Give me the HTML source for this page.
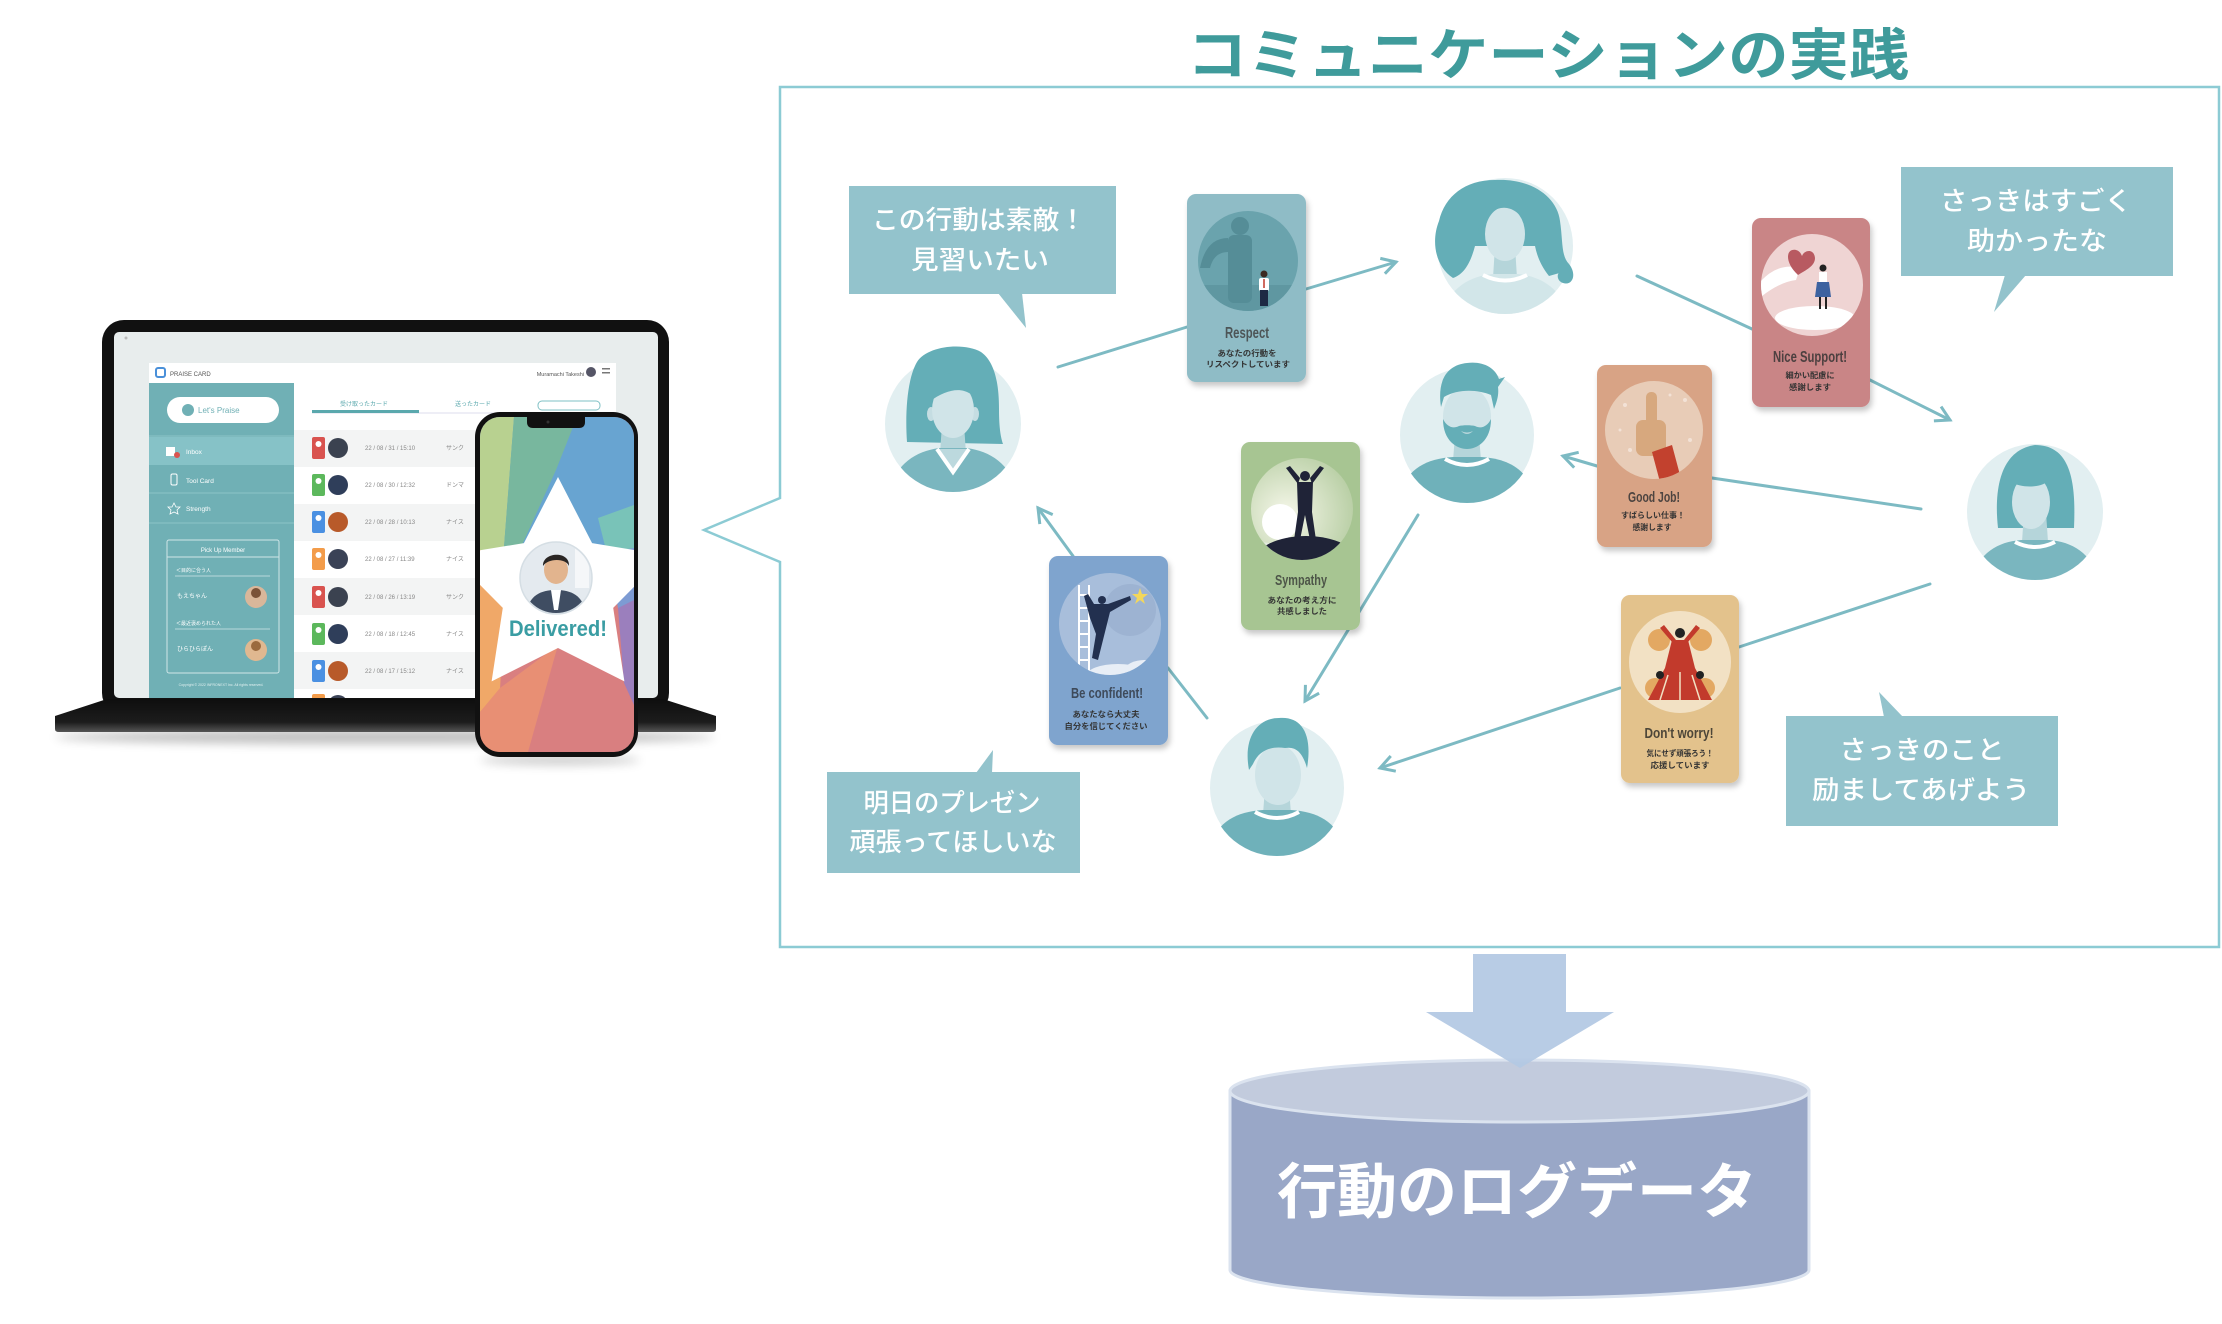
<!DOCTYPE html>
<html><head><meta charset="utf-8">
<style>
html,body{margin:0;padding:0;background:#fff;width:2222px;height:1324px;overflow:hidden;}
svg{display:block;}
text{font-family:'Liberation Sans','Noto Sans CJK JP',sans-serif;}
</style></head>
<body>
<svg width="2222" height="1324" viewBox="0 0 2222 1324" xmlns="http://www.w3.org/2000/svg">
<defs>
  <filter id="sh" x="-20%" y="-20%" width="150%" height="150%">
    <feDropShadow dx="2" dy="4" stdDeviation="3" flood-color="#000" flood-opacity="0.22"/>
  </filter>
  <filter id="blur" x="-10%" y="-200%" width="120%" height="500%"><feGaussianBlur stdDeviation="5"/></filter>
  <clipPath id="pc"><circle cx="0" cy="0" r="68"/></clipPath>
  <marker id="ah" viewBox="0 0 20 20" refX="17" refY="10" markerWidth="20" markerHeight="20" markerUnits="userSpaceOnUse" orient="auto">
    <path d="M3,2 L17,10 L3,18" fill="none" stroke="#7dbac3" stroke-width="3"/>
  </marker>
  <clipPath id="phoneclip"><rect x="480" y="417" width="154" height="335" rx="20"/></clipPath>
  <clipPath id="scr"><rect x="114" y="332" width="544" height="366"/></clipPath>
  <clipPath id="c1"><circle cx="1248" cy="261" r="50"/></clipPath>
  <clipPath id="c2"><circle cx="1812" cy="285" r="51"/></clipPath>
  <clipPath id="c3"><circle cx="1654" cy="430" r="49"/></clipPath>
  <clipPath id="c4"><circle cx="1302" cy="509" r="51"/></clipPath>
  <clipPath id="c5"><circle cx="1110" cy="624" r="51"/></clipPath>
  <clipPath id="c6"><circle cx="1680" cy="662" r="51"/></clipPath>
  <radialGradient id="gsym" cx="0.35" cy="0.55" r="0.7">
    <stop offset="0" stop-color="#f6f7ea"/><stop offset="1" stop-color="#b6cda2"/>
  </radialGradient>
  <linearGradient id="baseg" x1="0" y1="0" x2="0" y2="1">
    <stop offset="0" stop-color="#0e0e0e"/><stop offset="0.7" stop-color="#1c1c1c"/><stop offset="1" stop-color="#555"/>
  </linearGradient>
</defs>

<!-- ================= Title ================= -->
<text x="1187" y="75" font-size="56" font-weight="700" fill="#3f9b9b" textLength="722" lengthAdjust="spacingAndGlyphs">コミュニケーションの実践</text>

<!-- ================= Frame with notch ================= -->
<path d="M780,87 L2219,87 L2219,947 L780,947 L780,562 L704,530 L780,498 Z" fill="#fff" stroke="#8ccbd4" stroke-width="2.5"/>

<!-- ================= Connector lines ================= -->
<g stroke="#7dbac3" stroke-width="3" fill="none" stroke-linecap="round">
  <line x1="1058" y1="367" x2="1187" y2="327"/>
  <line x1="1306" y1="289" x2="1396" y2="262" marker-end="url(#ah)"/>
  <line x1="1637" y1="276" x2="1752" y2="329"/>
  <line x1="1870" y1="380" x2="1950" y2="420" marker-end="url(#ah)"/>
  <line x1="1921" y1="509" x2="1712" y2="478"/>
  <line x1="1597" y1="466" x2="1563" y2="456" marker-end="url(#ah)"/>
  <line x1="1418" y1="515" x2="1305" y2="701" marker-end="url(#ah)"/>
  <line x1="1930" y1="584" x2="1739" y2="647"/>
  <line x1="1620" y1="688" x2="1380" y2="768" marker-end="url(#ah)"/>
  <line x1="1207" y1="718" x2="1168" y2="668"/>
  <line x1="1073" y1="556" x2="1038" y2="508" marker-end="url(#ah)"/>
</g>

<!-- ================= Speech bubbles ================= -->
<g fill="#93c3cc">
  <rect x="849" y="186" width="267" height="108"/>
  <polygon points="998,293 1022,293 1026,328"/>
  <rect x="1901" y="167" width="272" height="109"/>
  <polygon points="2005,275 2026,275 1994,312"/>
  <rect x="827" y="772" width="253" height="101"/>
  <polygon points="976,773 992,773 993,750"/>
  <rect x="1786" y="716" width="272" height="110"/>
  <polygon points="1879,692 1884,717 1903,717"/>
</g>
<g fill="#fff" font-size="26" font-weight="500" text-anchor="middle">
  <text x="979" y="229" textLength="214" lengthAdjust="spacingAndGlyphs">この行動は素敵！</text>
  <text x="980" y="269" textLength="138" lengthAdjust="spacingAndGlyphs">見習いたい</text>
  <text x="2036" y="210" textLength="192" lengthAdjust="spacingAndGlyphs">さっきはすごく</text>
  <text x="2037" y="250" textLength="140" lengthAdjust="spacingAndGlyphs">助かったな</text>
  <text x="952" y="812" textLength="177" lengthAdjust="spacingAndGlyphs">明日のプレゼン</text>
  <text x="953" y="851" textLength="207" lengthAdjust="spacingAndGlyphs">頑張ってほしいな</text>
  <text x="1922" y="759" textLength="165" lengthAdjust="spacingAndGlyphs">さっきのこと</text>
  <text x="1921" y="799" textLength="218" lengthAdjust="spacingAndGlyphs">励ましてあげよう</text>
</g>

<!-- ================= Cards ================= -->
<!-- Respect -->
<rect x="1187" y="194" width="119" height="188" rx="9" fill="#8fbcc6" filter="url(#sh)"/>
<circle cx="1248" cy="261" r="50" fill="#6aa3ad"/>
<g clip-path="url(#c1)">
  <rect x="1190" y="285" width="120" height="40" fill="#5f97a1"/>
  <path d="M1200,268 Q1206,238 1228,238 L1228,252 Q1214,252 1210,268Z" fill="#558d97"/>
  <circle cx="1240" cy="226" r="9" fill="#558d97"/>
  <rect x="1228" y="235" width="24" height="68" rx="6" fill="#558d97"/>
  <circle cx="1264" cy="274" r="3.5" fill="#3b2a22"/>
  <rect x="1259" y="278" width="10" height="13" rx="2" fill="#fff"/>
  <line x1="1264" y1="279" x2="1264" y2="288" stroke="#c0392b" stroke-width="1.5"/>
  <rect x="1260" y="290" width="8" height="16" fill="#1e2a44"/>
</g>
<text x="1247" y="338" font-size="16" font-weight="700" fill="#4d5557" text-anchor="middle" textLength="44" lengthAdjust="spacingAndGlyphs">Respect</text>
<text x="1247" y="356" font-size="8" font-weight="700" fill="#333" text-anchor="middle" textLength="59" lengthAdjust="spacingAndGlyphs">あなたの行動を</text>
<text x="1248" y="367" font-size="8" font-weight="700" fill="#333" text-anchor="middle" textLength="84" lengthAdjust="spacingAndGlyphs">リスペクトしています</text>

<!-- Nice Support -->
<rect x="1752" y="218" width="118" height="189" rx="9" fill="#c98586" filter="url(#sh)"/>
<circle cx="1812" cy="285" r="51" fill="#efd4d3"/>
<g clip-path="url(#c2)">
  <path d="M1760,282 Q1778,262 1800,268 L1796,280 Q1780,282 1762,296Z" fill="#fff"/>
  <ellipse cx="1815" cy="318" rx="40" ry="12" fill="#fff"/>
  <path d="M1798,275 C1784,262 1786,248 1796,250 C1800,251 1801,254 1802,256 C1804,250 1814,248 1815,258 C1815,266 1806,270 1798,275Z" fill="#b85a61"/>
  <circle cx="1823" cy="268" r="3.5" fill="#222"/>
  <rect x="1819" y="272" width="8" height="10" fill="#fff"/>
  <path d="M1817,282 L1829,282 L1831,297 L1815,297Z" fill="#3d62a0"/>
  <rect x="1819" y="297" width="2" height="12" fill="#222"/>
  <rect x="1825" y="297" width="2" height="12" fill="#222"/>
</g>
<text x="1810" y="362" font-size="16" font-weight="700" fill="#4d4040" text-anchor="middle" textLength="74" lengthAdjust="spacingAndGlyphs">Nice Support!</text>
<text x="1810" y="378" font-size="8" font-weight="700" fill="#333" text-anchor="middle" textLength="49" lengthAdjust="spacingAndGlyphs">細かい配慮に</text>
<text x="1810" y="390" font-size="8" font-weight="700" fill="#333" text-anchor="middle" textLength="42" lengthAdjust="spacingAndGlyphs">感謝します</text>

<!-- Good Job -->
<rect x="1597" y="365" width="115" height="182" rx="9" fill="#d8a385" filter="url(#sh)"/>
<circle cx="1654" cy="430" r="49" fill="#e8ccb7"/>
<g clip-path="url(#c3)">
  <g fill="#f3e2d6"><circle cx="1625" cy="405" r="2"/><circle cx="1685" cy="400" r="2"/><circle cx="1630" cy="450" r="2"/><circle cx="1690" cy="440" r="2"/><circle cx="1670" cy="395" r="1.5"/><circle cx="1620" cy="430" r="1.5"/></g>
  <rect x="1646" y="392" width="11" height="34" rx="5" fill="#d7a87e"/>
  <rect x="1636" y="420" width="30" height="36" rx="7" fill="#d7a87e"/>
  <path d="M1652,452 L1672,445 L1680,475 L1660,482Z" fill="#c2412e"/>
</g>
<text x="1654" y="502" font-size="15" font-weight="700" fill="#4d4440" text-anchor="middle" textLength="52" lengthAdjust="spacingAndGlyphs">Good Job!</text>
<text x="1653" y="518" font-size="8" font-weight="700" fill="#333" text-anchor="middle" textLength="64" lengthAdjust="spacingAndGlyphs">すばらしい仕事！</text>
<text x="1652" y="530" font-size="8" font-weight="700" fill="#333" text-anchor="middle" textLength="39" lengthAdjust="spacingAndGlyphs">感謝します</text>

<!-- Sympathy -->
<rect x="1241" y="442" width="119" height="188" rx="9" fill="#a7c592" filter="url(#sh)"/>
<circle cx="1302" cy="509" r="51" fill="url(#gsym)"/>
<g clip-path="url(#c4)">
  <circle cx="1280" cy="522" r="18" fill="#fff"/>
  <ellipse cx="1255" cy="548" rx="25" ry="6" fill="#e4ece0"/>
  <ellipse cx="1306" cy="562" rx="52" ry="26" fill="#1f2337"/>
  <circle cx="1305" cy="476" r="5" fill="#1f2337"/>
  <path d="M1297,482 L1313,482 L1312,512 L1316,540 L1310,540 L1305,515 L1300,540 L1294,540 L1298,512Z" fill="#1f2337"/>
  <path d="M1298,484 L1286,468 L1290,466 L1300,478Z" fill="#1f2337"/>
  <path d="M1312,484 L1324,468 L1320,466 L1310,478Z" fill="#1f2337"/>
</g>
<text x="1301" y="585" font-size="15" font-weight="700" fill="#4d5548" text-anchor="middle" textLength="52" lengthAdjust="spacingAndGlyphs">Sympathy</text>
<text x="1302" y="603" font-size="8" font-weight="700" fill="#333" text-anchor="middle" textLength="69" lengthAdjust="spacingAndGlyphs">あなたの考え方に</text>
<text x="1302" y="614" font-size="8" font-weight="700" fill="#333" text-anchor="middle" textLength="50" lengthAdjust="spacingAndGlyphs">共感しました</text>

<!-- Be confident -->
<rect x="1049" y="556" width="119" height="189" rx="9" fill="#7fa4ce" filter="url(#sh)"/>
<circle cx="1110" cy="624" r="51" fill="#a8bedb"/>
<g clip-path="url(#c5)">
  <circle cx="1130" cy="610" r="26" fill="#9db3d2"/>
  <ellipse cx="1118" cy="676" rx="32" ry="12" fill="#e8eef6"/>
  <ellipse cx="1145" cy="670" rx="20" ry="10" fill="#e8eef6"/>
  <g stroke="#fff" stroke-width="2">
    <line x1="1079" y1="585" x2="1079" y2="680"/><line x1="1089" y1="585" x2="1089" y2="680"/>
    <line x1="1079" y1="595" x2="1089" y2="595"/><line x1="1079" y1="608" x2="1089" y2="608"/>
    <line x1="1079" y1="621" x2="1089" y2="621"/><line x1="1079" y1="634" x2="1089" y2="634"/>
    <line x1="1079" y1="647" x2="1089" y2="647"/><line x1="1079" y1="660" x2="1089" y2="660"/>
  </g>
  <circle cx="1102" cy="600" r="4" fill="#22304f"/>
  <path d="M1094,604 L1108,604 L1130,596 L1131,600 L1110,612 L1104,636 L1098,660 L1092,658 L1096,634 L1090,618 L1084,596 L1088,594Z" fill="#22304f"/>
  <path d="M1140,588 L1142,594 L1148,594 L1143,598 L1145,604 L1140,600 L1135,604 L1137,598 L1132,594 L1138,594Z" fill="#f3d75b"/>
</g>
<text x="1107" y="698" font-size="15" font-weight="700" fill="#3e4a5a" text-anchor="middle" textLength="72" lengthAdjust="spacingAndGlyphs">Be confident!</text>
<text x="1106" y="717" font-size="8" font-weight="700" fill="#333" text-anchor="middle" textLength="67" lengthAdjust="spacingAndGlyphs">あなたなら大丈夫</text>
<text x="1106" y="729" font-size="8" font-weight="700" fill="#333" text-anchor="middle" textLength="83" lengthAdjust="spacingAndGlyphs">自分を信じてください</text>

<!-- Don't worry -->
<rect x="1621" y="595" width="118" height="188" rx="9" fill="#e3c28c" filter="url(#sh)"/>
<circle cx="1680" cy="662" r="51" fill="#f2e1c4"/>
<g clip-path="url(#c6)">
  <g fill="#e3a862"><circle cx="1659" cy="640" r="11"/><circle cx="1701" cy="640" r="11"/><circle cx="1655" cy="688" r="10"/><circle cx="1705" cy="688" r="10"/></g>
  <circle cx="1680" cy="633" r="5" fill="#222"/>
  <path d="M1672,640 L1688,640 L1695,668 L1712,700 L1648,700 L1665,668Z" fill="#c23a2c"/>
  <path d="M1672,642 L1660,628 L1664,625 L1676,640Z" fill="#c23a2c"/>
  <path d="M1688,642 L1700,628 L1696,625 L1684,640Z" fill="#c23a2c"/>
  <g stroke="#f2e1c4" stroke-width="1.5"><line x1="1668" y1="675" x2="1660" y2="700"/><line x1="1680" y1="672" x2="1680" y2="700"/><line x1="1692" y1="675" x2="1700" y2="700"/></g>
  <circle cx="1660" cy="675" r="4" fill="#222"/><circle cx="1700" cy="675" r="4" fill="#222"/>
</g>
<text x="1679" y="738" font-size="15" font-weight="700" fill="#4d4638" text-anchor="middle" textLength="69" lengthAdjust="spacingAndGlyphs">Don't worry!</text>
<text x="1680" y="756" font-size="8" font-weight="700" fill="#333" text-anchor="middle" textLength="67" lengthAdjust="spacingAndGlyphs">気にせず頑張ろう！</text>
<text x="1680" y="768" font-size="8" font-weight="700" fill="#333" text-anchor="middle" textLength="59" lengthAdjust="spacingAndGlyphs">応援しています</text>

<!-- ================= Persons ================= -->
<!-- P1 woman left -->
<g transform="translate(953,424)">
  <circle r="68" fill="#e2eff1"/>
  <path d="M-46,18 C-48,-10 -46,-45 -36,-62 C-26,-78 10,-82 28,-72 C42,-62 46,-40 46,-15 C46,5 48,14 50,20 Z" fill="#64aeb7"/>
  <path d="M-11,0 L11,0 L13,30 L-13,30Z" fill="#b5d5da"/>
  <g clip-path="url(#pc)">
    <path d="M-66,80 C-62,42 -40,28 -14,24 L14,24 C40,28 62,42 66,80Z" fill="#7ab6bf"/>
  </g>
  <path d="M-16,25 L0,48 L16,25Z" fill="#bcd9de"/>
  <path d="M-16,25 L0,48 L16,25" fill="none" stroke="#fff" stroke-width="4"/>
  <ellipse cx="-22" cy="-10" rx="4" ry="7" fill="#c5dde2"/>
  <ellipse cx="22" cy="-10" rx="4" ry="7" fill="#c5dde2"/>
  <ellipse cx="0" cy="-14" rx="21" ry="28" fill="#d0e4e8"/>
  <path d="M-24,-22 C-24,-48 -4,-54 10,-50 C24,-46 28,-34 26,-20 C18,-36 0,-40 -24,-22Z" fill="#64aeb7"/>
</g>

<!-- P2 wavy hair woman -->
<g transform="translate(1505,246)">
  <circle r="68" fill="#e2eff1"/>
  <path d="M-52,32 C-70,20 -74,-5 -66,-25 C-60,-50 -40,-66 -10,-66 C25,-68 52,-50 55,-25 C58,-5 56,10 64,18 C72,28 68,40 58,37 C50,34 52,24 58,26 L44,30 C36,20 32,10 30,0 L-30,0 C-34,15 -40,28 -52,32Z" fill="#64aeb7"/>
  <path d="M-10,0 L10,0 L12,32 L-12,32Z" fill="#b5d5da"/>
  <g clip-path="url(#pc)">
    <path d="M-66,80 C-62,46 -38,30 -12,28 L12,28 C38,30 62,46 66,80Z" fill="#d2e6e9"/>
  </g>
  <path d="M-22,29 Q0,40 22,29" fill="none" stroke="#fff" stroke-width="4"/>
  <ellipse cx="0" cy="-12" rx="20" ry="27" fill="#d0e4e8"/>
  <path d="M-26,-10 C-28,-45 -5,-52 10,-48 C26,-44 30,-25 24,-12 C20,-30 8,-40 -4,-38 C-16,-36 -22,-26 -26,-10Z" fill="#64aeb7"/>
</g>

<!-- P3 bearded man -->
<g transform="translate(1467,435)">
  <circle r="67" fill="#e2eff1"/>
  <path d="M-12,0 L12,0 L14,26 L-14,26Z" fill="#b5d5da"/>
  <g clip-path="url(#pc)">
    <path d="M-72,80 C-68,38 -46,24 -14,22 L14,22 C46,24 68,38 72,80Z" fill="#6fb1ba"/>
  </g>
  <path d="M-22,24 Q0,36 22,24" fill="none" stroke="#fff" stroke-width="4"/>
  <ellipse cx="0" cy="-18" rx="24" ry="30" fill="#d0e4e8"/>
  <path d="M-24,-16 C-24,6 -10,14 0,14 C10,14 24,6 24,-16 C20,-8 14,-6 8,-9 C4,-10 -4,-10 -8,-9 C-14,-6 -20,-8 -24,-16Z" fill="#64aeb7"/>
  <path d="M-6,-4 Q0,-1 6,-4 Q0,2 -6,-4Z" fill="#b5d5da"/>
  <path d="M-26,-28 C-30,-55 -20,-70 0,-72 C15,-74 28,-68 32,-56 L38,-58 L31,-48 C32,-40 30,-34 27,-26 L24,-40 C10,-46 -10,-46 -23,-38 Z" fill="#64aeb7"/>
</g>

<!-- P4 short bob -->
<g transform="translate(2035,512)">
  <circle r="68" fill="#e2eff1"/>
  <path d="M-37,16 C-41,-20 -36,-62 0,-67 C36,-67 41,-30 39,16Z" fill="#64aeb7"/>
  <path d="M-11,0 L11,0 L13,30 L-13,30Z" fill="#b5d5da"/>
  <g clip-path="url(#pc)">
    <path d="M-66,80 C-62,44 -40,30 -14,28 L14,28 C40,30 62,44 66,80Z" fill="#7ab6bf"/>
  </g>
  <path d="M-20,30 Q0,40 20,30" fill="none" stroke="#fff" stroke-width="4"/>
  <ellipse cx="-4" cy="-10" rx="19" ry="27" fill="#d0e4e8"/>
  <path d="M-24,-30 C-10,-56 26,-52 32,-22 L30,16 L18,14 C22,-2 20,-20 12,-30 C4,-24 -14,-24 -24,-30Z" fill="#64aeb7"/>
</g>

<!-- P5 man bottom -->
<g transform="translate(1277,788)">
  <circle r="67" fill="#e2eff1"/>
  <path d="M-12,0 L12,0 L14,26 L-14,26Z" fill="#b5d5da"/>
  <g clip-path="url(#pc)">
    <path d="M-72,80 C-68,38 -46,24 -14,22 L14,22 C46,24 68,38 72,80Z" fill="#6fb1ba"/>
  </g>
  <path d="M-22,24 Q0,36 22,24" fill="none" stroke="#fff" stroke-width="4"/>
  <ellipse cx="1" cy="-13" rx="23" ry="30" fill="#d0e4e8"/>
  <path d="M-28,-18 C-34,-50 -20,-70 2,-70 C24,-72 36,-55 30,-20 C26,-34 20,-42 8,-40 C-6,-42 -18,-38 -24,-24Z" fill="#64aeb7"/>
</g>

<!-- ================= Down arrow & cylinder ================= -->
<path d="M1230,1091 L1230,1270 A289.5,28 0 0 0 1809,1270 L1809,1091 Z" fill="#99a7c7" stroke="#dbe3ef" stroke-width="3"/>
<ellipse cx="1519.5" cy="1091" rx="289.5" ry="31" fill="#c2cbdd" stroke="#dbe3ef" stroke-width="3"/>
<polygon points="1473,954 1566,954 1566,1012 1614,1012 1520,1068 1426,1012 1473,1012" fill="#b3c8e3" opacity="0.93"/>
<text x="1517" y="1213" font-size="60" font-weight="700" fill="#fff" text-anchor="middle" textLength="480" lengthAdjust="spacingAndGlyphs">行動のログデータ</text>

<!-- ================= Laptop ================= -->
<ellipse cx="385" cy="737" rx="330" ry="7" fill="#000" opacity="0.25" filter="url(#blur)"/>
<rect x="102" y="320" width="567" height="395" rx="22" fill="#111"/>
<rect x="114" y="332" width="544" height="366" rx="5" fill="#e8eded"/>
<path d="M107,699 L663,699 L716,716 L716,729 Q716,732 712,732 L59,732 Q55,732 55,729 L55,716 Z" fill="url(#baseg)"/>
<g clip-path="url(#scr)">
  <circle cx="126" cy="338" r="1.5" fill="#bbb"/>
  <rect x="149" y="363" width="467" height="20" fill="#fff"/>
  <rect x="156" y="368" width="9" height="9" rx="2" fill="#fff" stroke="#4a90d9" stroke-width="2"/>
  <text x="170" y="376" font-size="6" fill="#555">PRAISE CARD</text>
  <text x="584" y="376" font-size="5.5" fill="#555" text-anchor="end">Muramachi Takeshi</text>
  <circle cx="591" cy="372" r="5" fill="#556"/>
  <rect x="602" y="368" width="8" height="1.5" fill="#777"/><rect x="602" y="372" width="8" height="1.5" fill="#777"/>
  <!-- sidebar -->
  <rect x="149" y="383" width="145" height="315" fill="#70b0b5"/>
  <rect x="167" y="397" width="112" height="26" rx="13" fill="#fff"/>
  <circle cx="188" cy="410" r="6" fill="#70b0b5"/>
  <text x="198" y="413" font-size="8" fill="#70b0b5">Let's Praise</text>
  <rect x="149" y="437" width="145" height="28" fill="#86c2c7"/>
  <g stroke="#8cc4c8" stroke-width="1"><line x1="149" y1="436" x2="294" y2="436"/><line x1="149" y1="493" x2="294" y2="493"/><line x1="149" y1="523" x2="294" y2="523"/></g>
  <rect x="166" y="447" width="9" height="9" fill="#fff"/><circle cx="177" cy="455" r="3" fill="#d9534f"/>
  <text x="186" y="454" font-size="6.5" fill="#fff">Inbox</text>
  <rect x="171" y="474" width="6" height="11" rx="1.5" fill="none" stroke="#fff" stroke-width="1"/>
  <text x="186" y="483" font-size="6.5" fill="#fff">Tool Card</text>
  <path d="M174,503 L176,507 L180,507 L177,510 L178,514 L174,512 L170,514 L171,510 L168,507 L172,507Z" fill="none" stroke="#fff" stroke-width="0.8"/>
  <text x="186" y="511" font-size="6.5" fill="#fff">Strength</text>
  <rect x="167" y="540" width="112" height="133" rx="2" fill="none" stroke="#cfe6e8" stroke-width="1"/>
  <text x="223" y="552" font-size="6" fill="#fff" text-anchor="middle">Pick Up Member</text>
  <line x1="167" y1="557" x2="279" y2="557" stroke="#cfe6e8" stroke-width="1"/>
  <text x="176" y="572" font-size="5" fill="#fff">＜目的に合う人</text>
  <line x1="175" y1="576" x2="270" y2="576" stroke="#cfe6e8" stroke-width="0.8"/>
  <text x="177" y="598" font-size="6" fill="#fff">もえちゃん</text>
  <circle cx="256" cy="597" r="11" fill="#d9b79a"/><circle cx="256" cy="593" r="5" fill="#7a5238"/>
  <text x="176" y="625" font-size="5" fill="#fff">＜最近褒められた人</text>
  <line x1="175" y1="629" x2="270" y2="629" stroke="#cfe6e8" stroke-width="0.8"/>
  <text x="177" y="651" font-size="6" fill="#fff">ひらひらぽん</text>
  <circle cx="256" cy="650" r="11" fill="#e0b890"/><circle cx="256" cy="646" r="5" fill="#9a6a3e"/>
  <text x="221" y="686" font-size="3.5" fill="#e0f0f0" text-anchor="middle">Copyright © 2022 INFRONEXT Inc. All rights reserved.</text>
  <!-- content -->
  <rect x="294" y="383" width="322" height="315" fill="#fff"/>
  <text x="364" y="406" font-size="6" fill="#5aa8ad" text-anchor="middle">受け取ったカード</text>
  <text x="473" y="406" font-size="6" fill="#5aa8ad" text-anchor="middle">送ったカード</text>
  <rect x="538" y="401" width="62" height="9" rx="4" fill="none" stroke="#7fc0c4" stroke-width="1"/>
  <line x1="312" y1="413" x2="600" y2="413" stroke="#dde" stroke-width="1"/>
  <rect x="312" y="410" width="107" height="3" fill="#5aa8ad"/>
  <g>
    <rect x="294" y="430" width="322" height="37" fill="#f3f4f4"/>
    <rect x="294" y="504" width="322" height="37" fill="#f3f4f4"/>
    <rect x="294" y="578" width="322" height="37" fill="#f3f4f4"/>
    <rect x="294" y="652" width="322" height="37" fill="#f3f4f4"/>
  </g>
  <g font-size="6" fill="#888">
    <rect x="312" y="437" width="13" height="22" rx="2" fill="#d9534f"/><circle cx="338" cy="448" r="10" fill="#3b4250"/><text x="365" y="450">22 / 08 / 31 / 15:10</text><text x="446" y="450">サンク</text>
    <rect x="312" y="474" width="13" height="22" rx="2" fill="#5cb85c"/><circle cx="338" cy="485" r="10" fill="#2f3e5a"/><text x="365" y="487">22 / 08 / 30 / 12:32</text><text x="446" y="487">ドンマ</text>
    <rect x="312" y="511" width="13" height="22" rx="2" fill="#4a90e2"/><circle cx="338" cy="522" r="10" fill="#b85a2a"/><text x="365" y="524">22 / 08 / 28 / 10:13</text><text x="446" y="524">ナイス</text>
    <rect x="312" y="548" width="13" height="22" rx="2" fill="#f39c4a"/><circle cx="338" cy="559" r="10" fill="#3a4256"/><text x="365" y="561">22 / 08 / 27 / 11:39</text><text x="446" y="561">ナイス</text>
    <rect x="312" y="586" width="13" height="22" rx="2" fill="#d9534f"/><circle cx="338" cy="597" r="10" fill="#3b4250"/><text x="365" y="599">22 / 08 / 26 / 13:19</text><text x="446" y="599">サンク</text>
    <rect x="312" y="623" width="13" height="22" rx="2" fill="#5cb85c"/><circle cx="338" cy="634" r="10" fill="#2f3e5a"/><text x="365" y="636">22 / 08 / 18 / 12:45</text><text x="446" y="636">ナイス</text>
    <rect x="312" y="660" width="13" height="22" rx="2" fill="#4a90e2"/><circle cx="338" cy="671" r="10" fill="#b85a2a"/><text x="365" y="673">22 / 08 / 17 / 15:12</text><text x="446" y="673">ナイス</text>
    <rect x="312" y="694" width="13" height="22" rx="2" fill="#f39c4a"/><circle cx="338" cy="705" r="10" fill="#3a4256"/>
  </g>
  <g fill="#fff"><circle cx="318.5" cy="444" r="3"/><circle cx="318.5" cy="481" r="3"/><circle cx="318.5" cy="518" r="3"/><circle cx="318.5" cy="555" r="3"/><circle cx="318.5" cy="593" r="3"/><circle cx="318.5" cy="630" r="3"/><circle cx="318.5" cy="667" r="3"/></g>
</g>

<!-- ================= Phone ================= -->
<ellipse cx="560" cy="760" rx="80" ry="5" fill="#000" opacity="0.2" filter="url(#blur)"/>
<rect x="475" y="412" width="163" height="345" rx="25" fill="#111"/>
<g clip-path="url(#phoneclip)">
  <rect x="480" y="417" width="154" height="335" fill="#d97f80"/>
  <polygon points="480,417 634,417 634,565 480,565" fill="#68a4d1"/>
  <polygon points="480,417 514,417 503,560 480,560" fill="#b8d190"/>
  <polygon points="514,417 577,417 556,470 522,545 503,560" fill="#78b79e"/>
  <polygon points="598,518 634,505 634,552 606,550" fill="#79c3b8"/>
  <polygon points="480,550 507,550 500,690 480,712" fill="#f0a868"/>
  <polygon points="480,712 500,688 558,645 528,752 480,752" fill="#e88f74"/>
  <polygon points="608,552 634,548 634,615 618,608" fill="#7d9bd3"/>
  <polygon points="618,608 634,600 634,705 624,683" fill="#9b7fbd"/>
  <polygon points="558,477 592.1,543.1 665.5,555.1 613.2,607.9 624.4,681.4 558,648 491.6,681.4 502.8,607.9 450.5,555.1 523.9,543.1" fill="#fff"/>
  <circle cx="556" cy="578" r="36" fill="#e4eaef" stroke="#d5dee4" stroke-width="1.5"/>
  <clipPath id="prof"><circle cx="556" cy="578" r="35"/></clipPath>
  <g clip-path="url(#prof)">
    <rect x="575" y="548" width="14" height="40" fill="#f5f7f9"/>
    <path d="M526,615 C528,596 540,590 556,590 C572,590 584,596 586,615Z" fill="#3f4d62"/>
    <path d="M551,590 L561,590 L558,610 L554,610Z" fill="#fff"/>
    <ellipse cx="556" cy="570" rx="12" ry="14" fill="#e2b48e"/>
    <path d="M543,566 C542,552 570,550 569,566 C566,558 548,558 543,566Z" fill="#2a2624"/>
  </g>
  <text x="558" y="636" font-size="22" font-weight="700" fill="#3a9da3" text-anchor="middle" textLength="98" lengthAdjust="spacingAndGlyphs">Delivered!</text>
</g>
<path d="M527,417 L585,417 L585,422 Q585,428 579,428 L533,428 Q527,428 527,422Z" fill="#111"/>
<circle cx="548" cy="422" r="1.5" fill="#333"/>
</svg>
</body></html>
